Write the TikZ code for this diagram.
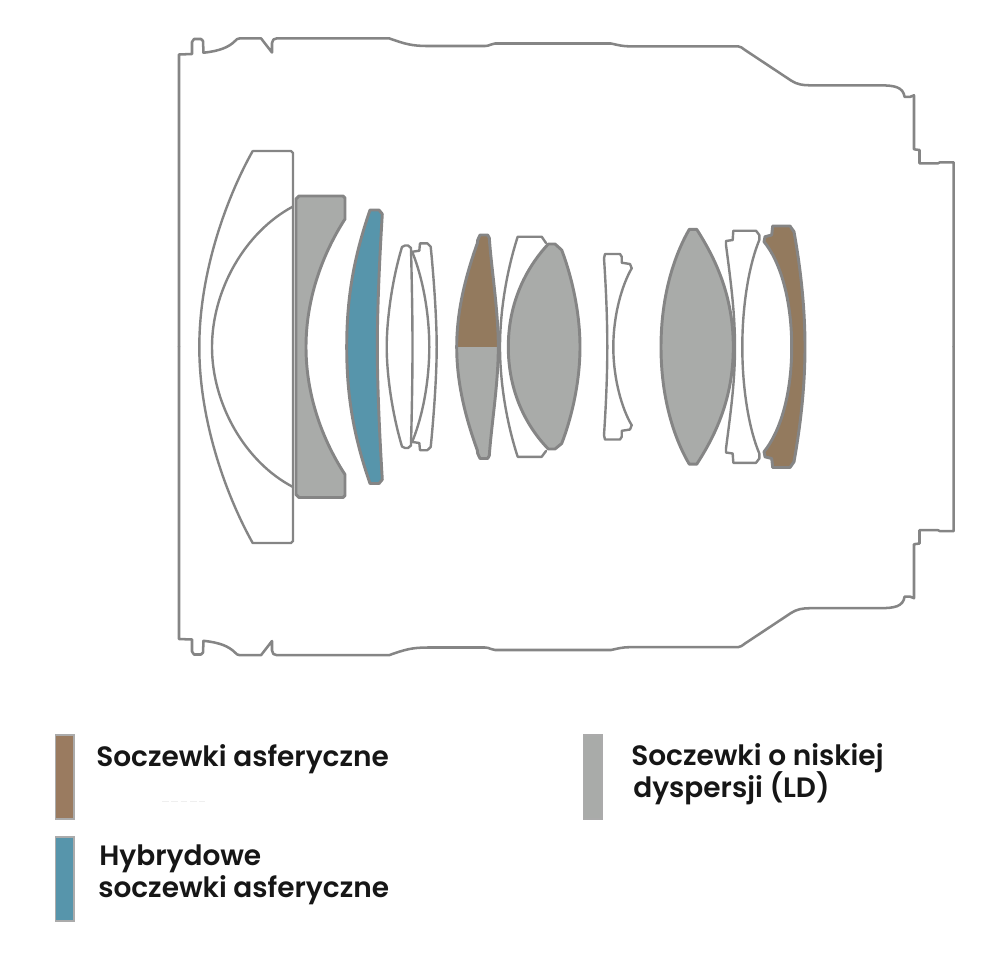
\documentclass[tikz,border=0pt]{standalone}
\usepackage{fontspec}
\setmainfont{Poppins}[BoldFont={Poppins SemiBold}]
\definecolor{edge}{HTML}{858585}
\definecolor{ldgray}{HTML}{A9ABA9}
\definecolor{asph}{HTML}{937A5E}
\definecolor{hybrid}{HTML}{5795AB}
\definecolor{legbrown}{HTML}{9A7B60}
\definecolor{legframe}{HTML}{ABABAB}
\definecolor{ink}{HTML}{161616}
\definecolor{ghost}{HTML}{EFEFEF}
\tikzset{
  bodyline/.style={draw=edge,line width=1.9pt,line join=round,line cap=round},
  lensline/.style={draw=edge,line width=1.8pt,line join=round,line cap=round},
  thickedge/.style={draw=edge,line width=2.2pt,line join=round,line cap=round},
  swatch/.style={draw=legframe,line width=1.4pt},
  legendtext/.style={anchor=base west,inner sep=0pt,text=ink,font=\fontsize{21}{25}\selectfont\bfseries},
  mirrored/.style={shift={(0,693.5)},yscale=-1}
}
\newcommand{\bodyhalf}{%
  (179,346.75) -- (179,54.5) -- (192,54) -- (192,42) -- (194,39) -- (201,39) -- (203,41) -- (203.5,52.7)
  .. controls (220,51) and (229,47) .. (235,41) .. controls (236.5,39.5) and (237.5,38.3) .. (240,38.3) -- (261,38.3) -- (272,52.5) -- (272,43)
  .. controls (272,40) and (274,38.3) .. (277,38.3) -- (389,38.3)
  .. controls (405,44) and (412,46) .. (428,46) -- (485,46)
  .. controls (490,46) and (491,43.5) .. (495,43.5) -- (611,43.5)
  .. controls (618,45) and (622,46.3) .. (630,46.3) -- (738,46.3) .. controls (741,46.5) and (742,48) .. (745,50) -- (791,80.5)
  .. controls (797,84.5) and (803,85.3) .. (810,85.3) -- (879,85.3)
  .. controls (895,85.3) and (903,87) .. (904.6,96.9) -- (910,96.9) -- (914,95.3) -- (914,149.3) -- (919.5,150)
  -- (919.5,163.3) -- (938,163.3) -- (940,162.3) -- (953.6,162.3) -- (953.6,346.75)}
\begin{document}
\begin{tikzpicture}[x=0.75pt,y=-0.75pt]
\useasboundingbox (0,0) rectangle (1000,958);
% lens barrel
\draw[bodyline] \bodyhalf;
\begin{scope}[mirrored]
\draw[bodyline] \bodyhalf;
\end{scope}
% lens 1
\draw[lensline] (252.7,151) -- (291,151) -- (293,153) -- (293,541) -- (291,543) -- (252.7,543)
  .. controls (228,499) and (199.3,424) .. (199.3,347)
  .. controls (199.3,270) and (228,195) .. (252.7,151);
\draw[lensline] (293,206.5) .. controls (245,232) and (212,290) .. (212,347)
  .. controls (212,404) and (245,462) .. (293,487);
% lens 2
\filldraw[fill=ldgray,thickedge] (296,199) -- (299,196) -- (343,196) -- (345,198) -- (345,219)
  .. controls (325,250) and (306,295) .. (306,347)
  .. controls (306,399) and (325,444) .. (345,474.5)
  -- (345,495.5) -- (343,497.5) -- (299,497.5) -- (296,494.5) -- cycle;
% lens 3 hybrid
\filldraw[fill=hybrid,thickedge] (370,210) -- (379,210) -- (382.3,214)
  .. controls (379.5,260) and (377.3,310) .. (377.3,347)
  .. controls (377.3,384) and (379.5,434) .. (382.3,479.5)
  -- (379,483.5) -- (370,483.5)
  .. controls (355,440) and (346.7,400) .. (346.7,347)
  .. controls (346.7,294) and (355,254) .. (370,210) -- cycle;
% lens 4
\draw[lensline] (402,247) -- (405,245.5) -- (408,245.5) -- (411,248)
  .. controls (412,290) and (412.5,320) .. (412.5,347)
  .. controls (412.5,374) and (412,404) .. (411,445.5)
  -- (408,448) -- (405,448) -- (402,446.5)
  .. controls (392,413) and (386.7,374) .. (386.7,347)
  .. controls (386.7,320) and (392,280) .. (402,247) -- cycle;
% lens 5
\draw[lensline] (420,243.3) -- (427.3,243.3) -- (430.7,246.7)
  .. controls (434,280) and (436.7,320) .. (436.7,347)
  .. controls (436.7,374) and (434,414) .. (430.7,447)
  -- (427.3,450.2) -- (420,450.2) -- (419.3,443) -- (412.7,442) -- (412.7,440.5)
  .. controls (423,415) and (429.3,380) .. (429.3,347)
  .. controls (429.3,314) and (423,279) .. (412.7,253)
  -- (412.7,251.7) -- (419.3,250.7) -- cycle;
% lens 6 aspherical + LD
\fill[asph] (480,235) -- (487.7,235) -- (489.3,238)
  .. controls (491.5,270) and (498.3,310) .. (498.3,347) -- (456.7,347)
  .. controls (456.7,310) and (466,275) .. (477.3,243.3) -- (477.7,240) -- cycle;
\fill[ldgray] (498.3,347) .. controls (498.3,384) and (491.5,424) .. (489.3,455.5)
  -- (487.7,458.5) -- (480,458.5) -- (477.7,453.5) -- (477.3,450.2)
  .. controls (466,419) and (456.7,384) .. (456.7,347) -- cycle;
\draw[thickedge] (480,235) -- (487.7,235) -- (489.3,238)
  .. controls (491.5,270) and (498.3,310) .. (498.3,347)
  .. controls (498.3,384) and (491.5,424) .. (489.3,455.5)
  -- (487.7,458.5) -- (480,458.5) -- (477.7,453.5) -- (477.3,450.2)
  .. controls (466,419) and (456.7,384) .. (456.7,347)
  .. controls (456.7,310) and (466,275) .. (477.3,243.3) -- (477.7,240) -- cycle;
% lens 7 white, behind lens 8
\draw[lensline] (546,243) -- (541.7,236.7) -- (517.7,236.7)
  .. controls (507,270) and (500,310) .. (500,347)
  .. controls (500,384) and (507,424) .. (517.7,456.8)
  -- (541.7,456.8) -- (546,451);
% lens 8
\filldraw[fill=ldgray,thickedge] (548.3,244) -- (555,244) -- (561.7,250)
  .. controls (573,280) and (580,315) .. (580,347)
  .. controls (580,379) and (573,414) .. (561.7,443.5)
  -- (555,449) -- (548.3,449)
  .. controls (525,425) and (508.3,390) .. (508.3,347)
  .. controls (508.3,304) and (525,269) .. (548.3,244) -- cycle;
% lens 9
\draw[lensline] (605,254) -- (620,254) -- (621.7,256.7) -- (621.7,262.7) -- (630,264) -- (631.7,268.3)
  .. controls (622,285) and (613.3,315) .. (613.3,347)
  .. controls (613.3,379) and (622,409) .. (631.7,425.2)
  -- (630,429.5) -- (621.7,430.8) -- (621.7,436.8) -- (620,439.5) -- (605,439.5) -- (604,435.2)
  .. controls (606,405) and (607.3,375) .. (607.3,347)
  .. controls (607.3,319) and (606,288) .. (604,258.3) -- cycle;
% lens 10
\filldraw[fill=ldgray,thickedge] (689.3,229.3) -- (696.7,229.3)
  .. controls (715,258) and (733.3,295) .. (733.3,347)
  .. controls (733.3,399) and (715,436) .. (696.7,464.2)
  -- (689.3,464.2)
  .. controls (675,440) and (661,400) .. (661,347)
  .. controls (661,294) and (675,254) .. (689.3,229.3) -- cycle;
% lens 11
\draw[lensline] (733.3,230.7) -- (756,230.7) -- (759.3,235) -- (759.3,240)
  .. controls (749,265) and (742.3,305) .. (742.3,347)
  .. controls (742.3,389) and (749,429) .. (759.3,453.5)
  -- (759.3,458.5) -- (756,462.8) -- (733.3,462.8) -- (732.7,453.5) -- (726,452.5) -- (726,448.5)
  .. controls (731,410) and (735,380) .. (735,347)
  .. controls (735,314) and (731,283) .. (726,245) -- (726,241) -- (732.7,240) -- cycle;
% lens 12
\filldraw[fill=asph,thickedge] (772.7,226) -- (790,226) -- (794,231.7)
  .. controls (800,265) and (805,305) .. (805,347)
  .. controls (805,389) and (800,428) .. (794,461.8)
  -- (790,467.5) -- (772.7,467.5) -- (771.7,458.5) -- (765,456.8) -- (764,451.8)
  .. controls (780,432) and (791.7,395) .. (791.7,347)
  .. controls (791.7,299) and (780,261) .. (764,241.7)
  -- (765,236.7) -- (771.7,235) -- cycle;
% legend
\filldraw[swatch,fill=legbrown] (55.5,735) rectangle (73.8,819);
\filldraw[swatch,fill=hybrid] (55.5,837.3) rectangle (73.8,921);
\filldraw[swatch,fill=ldgray] (583.5,735) rectangle (601.8,819);
\draw[ghost,line width=0.8pt,dash pattern=on 5pt off 2pt] (162,801.5) -- (205,801.5);
\node[legendtext] (t1) at (96,766.7) {Soczewki asferyczne};
\node[legendtext] (t2) at (99,865) {Hybrydowe};
\node[legendtext] (t3) at (98,897) {soczewki asferyczne};
\node[legendtext] (t4) at (631,765) {Soczewki o niskiej};
\node[legendtext] (t5) at (633,797) {dyspersji (LD)};
\end{tikzpicture}
\end{document}
